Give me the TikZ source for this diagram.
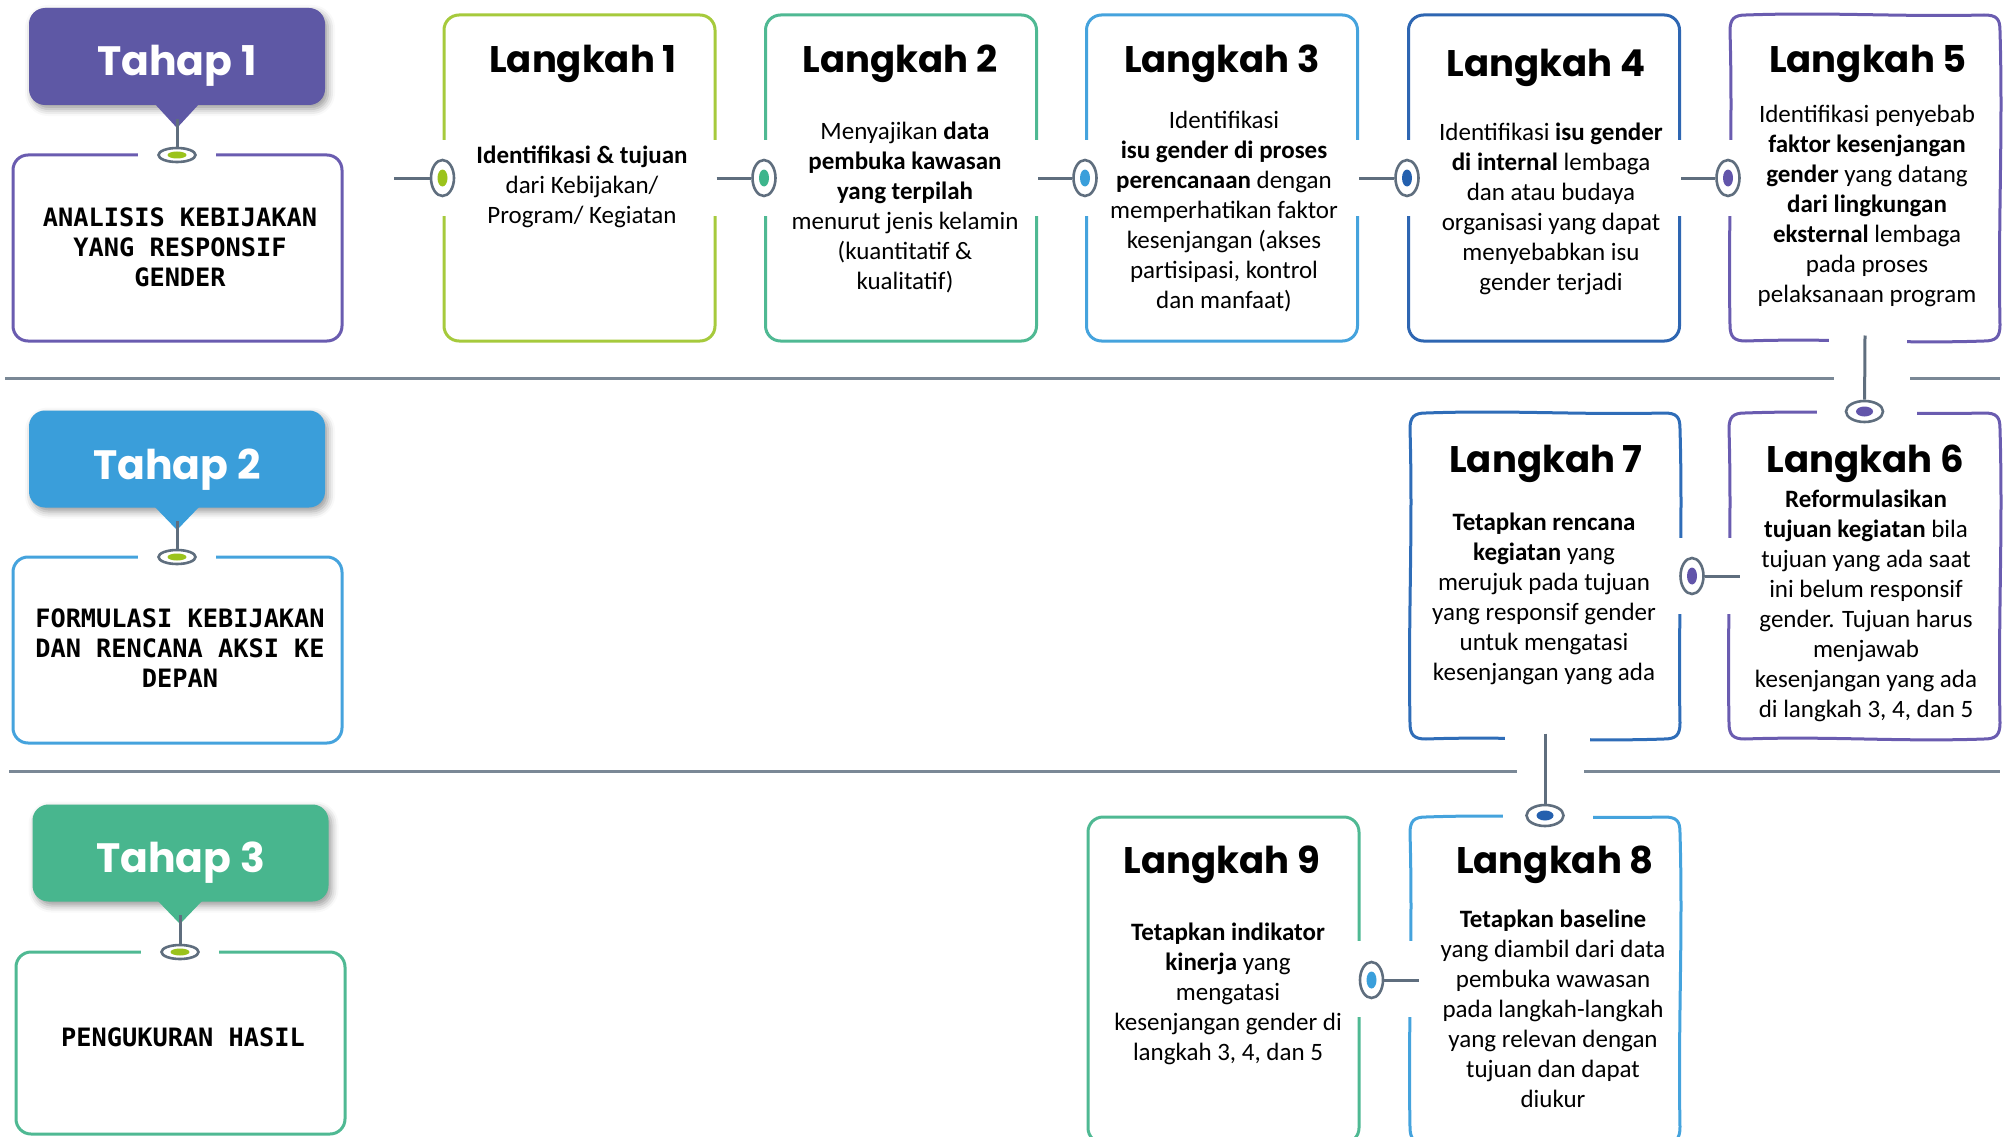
\documentclass[tikz,border=0pt]{standalone}
\usepackage{fontspec}
\setmainfont{Carlito}
\newfontfamily\headfont{Poppins}
\newfontfamily\codefont{DejaVu Sans Mono}
\usetikzlibrary{shapes.geometric,shadows.blur,calc}

\definecolor{cPurple}{HTML}{6A5CB0}
\definecolor{cPurpleDot}{HTML}{6255AA}
\definecolor{cTahapA}{HTML}{5E58A5}
\definecolor{cTahapB}{HTML}{3A9EDA}
\definecolor{cTahapC}{HTML}{48B68E}
\definecolor{cLime}{HTML}{A6CA3C}
\definecolor{cLimeDot}{HTML}{9BC31C}
\definecolor{cTeal}{HTML}{4FB993}
\definecolor{cTealDot}{HTML}{3DB58C}
\definecolor{cSky}{HTML}{45A3DD}
\definecolor{cSkyDot}{HTML}{3A9FDB}
\definecolor{cNavy}{HTML}{2E66B2}
\definecolor{cNavyB}{HTML}{2F6DB8}
\definecolor{cNavyDot}{HTML}{2460AE}
\definecolor{cWire}{HTML}{5F6E7E}
\definecolor{cRule}{HTML}{7A8896}

\tikzset{
  rule/.style={draw=cRule, line width=3pt},
  wire/.style={draw=cWire, line width=3pt},
  callout/.style={rounded corners=16pt, minimum width=296pt, minimum height=97pt,
    inner sep=0pt, blur shadow={shadow xshift=3pt, shadow yshift=-4pt,
    shadow blur radius=7pt, shadow opacity=40}},
  tahapbox/.style={draw, line width=3pt, rounded corners=15pt, minimum width=329pt,
    minimum height=186pt, inner sep=0pt, fill=white},
  stepbox/.style={draw, line width=3pt, rounded corners=15pt, minimum width=271pt,
    minimum height=326pt, inner sep=0pt, fill=white},
  plainbox/.style={stepbox, draw=none},
  vknob/.style={ellipse, draw=cWire, line width=2.6pt, fill=white,
    minimum width=23pt, minimum height=36pt, inner sep=0pt},
  hknob/.style={ellipse, draw=cWire, line width=2.6pt, fill=white,
    minimum width=37pt, minimum height=21pt, inner sep=0pt},
  flatknob/.style={hknob, minimum height=14pt},
  vdot/.style={ellipse, inner sep=0pt, minimum width=10pt, minimum height=17pt},
  hdot/.style={ellipse, inner sep=0pt, minimum width=17pt, minimum height=10pt},
  flatdot/.style={ellipse, inner sep=0pt, minimum width=19pt, minimum height=7pt, fill=cLimeDot},
  eraser/.style={fill=white},
  steptitle/.style={anchor=base, inner sep=0pt, font=\headfont\bfseries\fontsize{37}{44}\selectfont},
  tahaptitle/.style={anchor=base, inner sep=0pt, text=white, font=\headfont\bfseries\fontsize{41}{48}\selectfont},
  stepbody/.style={align=center, inner sep=0pt, font=\fontsize{25}{30}\selectfont},
  tahapbody/.style={align=center, inner sep=0pt, font=\codefont\bfseries\fontsize{25.3}{30}\selectfont},
}

% hand-drawn looking frame: colour, left, top, right, bottom
\newcommand\wobblyframe[5]{%
  \draw[#1, line width=3pt, line join=round]
    ({#2+16},#3) .. controls ({#2+100},{#3-3}) and ({#4-100},{#3+2}) .. ({#4-16},#3)
    .. controls ({#4-3},#3) and (#4,{#3+4}) .. (#4,{#3+16})
    .. controls ({#4+3},{#3+120}) and ({#4-2},{#5-120}) .. (#4,{#5-16})
    .. controls (#4,{#5-4}) and ({#4-4},#5) .. ({#4-16},#5)
    .. controls ({#4-100},{#5+3}) and ({#2+100},{#5-3}) .. ({#2+16},#5)
    .. controls ({#2+4},#5) and (#2,{#5-4}) .. (#2,{#5-16})
    .. controls ({#2-2},{#5-120}) and ({#2+3},{#3+120}) .. (#2,{#3+16})
    .. controls (#2,{#3+4}) and ({#2+4},#3) .. cycle;}

\begin{document}
\begin{tikzpicture}[x=1pt,y=-1pt]
\useasboundingbox (0,0) rectangle (2008,1137);
\clip (0,0) rectangle (2008,1137);

% row separators
\draw[rule] (5,378) -- (1834,378);
\draw[rule] (1910,378) -- (2000,378);
\draw[rule] (9,771) -- (1517,771);
\draw[rule] (1584,771) -- (2000,771);

% ---------- Tahap 1 ----------
\node[callout, fill=cTahapA] (T1) at (177,56.5) {};
\fill[cTahapA] (154,103) -- (200,103) -- (177,128) -- cycle;
\node[tahaptitle] (T1t) at (177,76) {Tahap 1};
\coordinate (s1) at (177,119);
\node[tahapbox, draw=cPurple] (B1) at (177.5,248) {};
\fill[eraser] (138,149) rectangle (216,161);
\node[flatknob] (kB1) at (177,155) {};
\node[flatdot] (dB1) at (kB1) {};
\draw[wire] (s1) -- (kB1);
\node[tahapbody] (B1t) at (180,247) {ANALISIS KEBIJAKAN\\YANG RESPONSIF\\GENDER};

% ---------- Tahap 2 ----------
\node[callout, fill=cTahapB] (T2) at (177,459) {};
\fill[cTahapB] (154,506) -- (200,506) -- (177,530) -- cycle;
\node[tahaptitle] (T2t) at (177,479) {Tahap 2};
\coordinate (s2) at (177,521);
\node[tahapbox, draw=cSky] (B2) at (177.5,650) {};
\fill[eraser] (138,551) rectangle (216,563);
\node[flatknob] (kB2) at (177,557) {};
\node[flatdot] (dB2) at (kB2) {};
\draw[wire] (s2) -- (kB2);
\node[tahapbody] (B2t) at (180,648) {FORMULASI KEBIJAKAN\\DAN RENCANA AKSI KE\\DEPAN};

% ---------- Tahap 3 ----------
\node[callout, fill=cTahapC] (T3) at (180.5,853) {};
\fill[cTahapC] (157,900) -- (203,900) -- (180,924) -- cycle;
\node[tahaptitle] (T3t) at (180.5,872) {Tahap 3};
\coordinate (s3) at (180,915);
\node[tahapbox, draw=cTeal, minimum height=182pt] (B3) at (180.5,1043) {};
\fill[eraser] (141,946) rectangle (219,958);
\node[flatknob] (kB3) at (180,952) {};
\node[flatdot] (dB3) at (kB3) {};
\draw[wire] (s3) -- (kB3);
\node[tahapbody] (B3t) at (183,1037) {PENGUKURAN HASIL};

% ---------- steps 1-5 ----------
\node[stepbox, draw=cLime] (L1) at (579.5,178) {};
\node[stepbox, draw=cTeal] (L2) at (901,178) {};
\node[stepbox, draw=cSky] (L3) at (1222,178) {};
\node[stepbox, draw=cNavy] (L4) at (1544,178) {};
\node[plainbox] (L5) at (1865,178) {};
\wobblyframe{cPurple}{1730}{15}{2000}{341}

\foreach \x in {444,715,766,1036,1087,1357,1409,1679,1730}
  \fill[eraser] ({\x-7},140) rectangle ({\x+7},216);
\fill[eraser] (1829,332) rectangle (1907,350);

\node[vknob] (k1) at (L1.west) {};
\node[vknob] (k2) at (L2.west) {};
\node[vknob] (k3) at (L3.west) {};
\node[vknob] (k4) at (L4.west) {};
\node[vknob] (k5) at (L5.west) {};
\node[vdot, fill=cLimeDot] (d1) at (k1) {};
\node[vdot, fill=cTealDot] (d2) at (k2) {};
\node[vdot, fill=cSkyDot] (d3) at (k3) {};
\node[vdot, fill=cNavyDot] (d4) at (k4) {};
\node[vdot, fill=cPurpleDot] (d5) at (k5) {};

\coordinate (s0) at (394,178);
\draw[wire] (s0) -- (k1);
\draw[wire] (L1.east) -- (k2);
\draw[wire] (L2.east) -- (k3);
\draw[wire] (L3.east) -- (k4);
\draw[wire] (L4.east) -- (k5);

\node[steptitle] (L1h) at (583,73) {Langkah 1};
\node[steptitle] (L2h) at (900,73) {Langkah 2};
\node[steptitle] (L3h) at (1222,73) {Langkah 3};
\node[steptitle] (L4h) at (1546,77) {Langkah 4};
\node[steptitle] (L5h) at (1868,73) {Langkah 5};

\node[stepbody] (L1b) at (582,187)
  {\textbf{Identifikasi \& tujuan}\\dari Kebijakan/\\Program/ Kegiatan};
\node[stepbody] (L2b) at (905,207)
  {Menyajikan \textbf{data}\\\textbf{pembuka kawasan}\\\textbf{yang terpilah}\\menurut jenis kelamin\\(kuantitatif \&\\kualitatif)};
\node[stepbody] (L3b) at (1224,212)
  {Identifikasi\\\textbf{isu gender di proses}\\\textbf{perencanaan} dengan\\memperhatikan faktor\\kesenjangan (akses\\partisipasi, kontrol\\dan manfaat)};
\node[stepbody] (L4b) at (1551,209)
  {Identifikasi \textbf{isu gender}\\\textbf{di internal} lembaga\\dan atau budaya\\organisasi yang dapat\\menyebabkan isu\\gender terjadi};
\node[stepbody] (L5b) at (1867,206)
  {Identifikasi penyebab\\\textbf{faktor kesenjangan}\\\textbf{gender} yang datang\\\textbf{dari lingkungan}\\\textbf{eksternal} lembaga\\pada proses\\pelaksanaan program};

% ---------- steps 6-7 ----------
\node[plainbox] (L7) at (1545,576) {};
\wobblyframe{cNavyB}{1410}{413}{1680}{739}
\node[plainbox] (L6) at (1864.5,576) {};
\wobblyframe{cPurple}{1729}{413}{2000}{739}

\fill[eraser] (1817,404) rectangle (1917,422);
\fill[eraser] (1721,538) rectangle (1737,614);
\fill[eraser] (1672,538) rectangle (1688,614);
\fill[eraser] (1505,730) rectangle (1590,748);

\coordinate (s6) at ($(L5.south)+(0,-7)$);
\node[hknob] (k6) at (L6.north) {};
\node[hdot, fill=cPurpleDot] (d6) at (k6) {};
\draw[wire] (s6) -- (k6);

\node[vknob] (k7) at ($(L7.east)+(10,0)$) {};
\node[vdot, fill=cPurpleDot] (d7) at (k7) {};
\coordinate (e7) at ($(L6.west)+(12,0)$);
\draw[wire] (k7) -- (e7);

\node[steptitle] (L7h) at (1546,472) {Langkah 7};
\node[steptitle] (L6h) at (1865,472) {Langkah 6};

\node[stepbody] (L7b) at (1544,599)
  {\textbf{Tetapkan rencana}\\\textbf{kegiatan} yang\\merujuk pada tujuan\\yang responsif gender\\untuk mengatasi\\kesenjangan yang ada};
\node[stepbody] (L6b) at (1866,606)
  {\textbf{Reformulasikan}\\\textbf{tujuan kegiatan} bila\\tujuan yang ada saat\\ini belum responsif\\gender. Tujuan harus\\menjawab\\kesenjangan yang ada\\di langkah 3, 4, dan 5};

% ---------- steps 8-9 ----------
\node[stepbox, draw=cTeal] (L9) at (1223.5,980) {};
\node[plainbox] (L8) at (1545,980) {};
\wobblyframe{cSky}{1410}{817}{1680}{1143}

\fill[eraser] (1503,808) rectangle (1593,826);
\fill[eraser] (1402,941) rectangle (1418,1017);
\fill[eraser] (1351,941) rectangle (1367,1017);

\coordinate (s8) at ($(L7.south)+(0,-7)$);
\node[hknob] (k8) at (L8.north) {};
\node[hdot, fill=cNavyDot] (d8) at (k8) {};
\draw[wire] (s8) -- (k8);

\node[vknob] (k9) at ($(L9.east)+(11,0)$) {};
\node[vdot, fill=cSkyDot] (d9) at (k9) {};
\coordinate (e9) at ($(L8.west)+(11,0)$);
\draw[wire] (k9) -- (e9);

\node[steptitle] (L9h) at (1222,873) {Langkah 9};
\node[steptitle] (L8h) at (1555,873) {Langkah 8};

\node[stepbody] (L9b) at (1228,994)
  {\textbf{Tetapkan indikator}\\\textbf{kinerja} yang\\mengatasi\\kesenjangan gender di\\langkah 3, 4, dan 5};
\node[stepbody] (L8b) at (1553,1009)
  {\textbf{Tetapkan baseline}\\yang diambil dari data\\pembuka wawasan\\pada langkah-langkah\\yang relevan dengan\\tujuan dan dapat\\diukur};
\end{tikzpicture}
\end{document}
